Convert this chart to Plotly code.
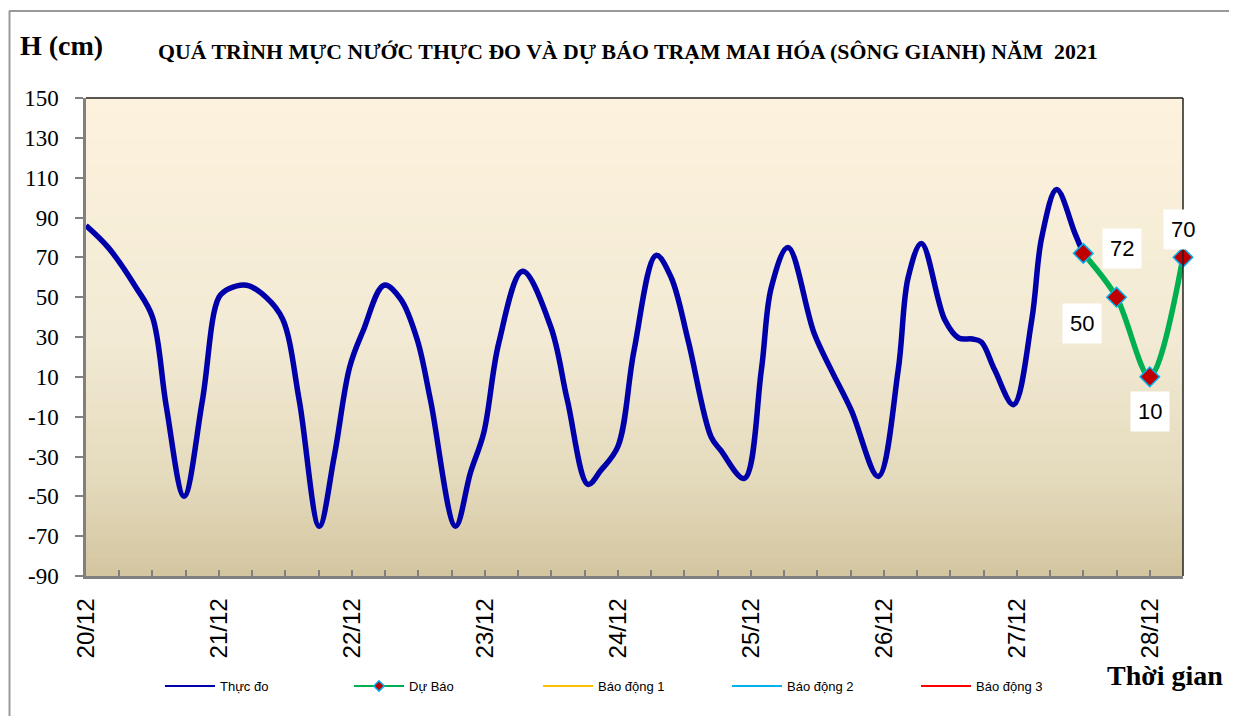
import plotly.graph_objects as go

# ---------------- data ----------------
day_labels = ["20/12", "21/12", "22/12", "23/12", "24/12", "25/12", "26/12", "27/12", "28/12"]
day_hours = [0, 24, 48, 72, 96, 120, 144, 168, 192]
y_ticks = [-90, -70, -50, -30, -10, 10, 30, 50, 70, 90, 110, 130, 150]
y_tick_text = ["-90", "-70", "-50", "-30", "-10", "10", "30", "50", "70", "90", "110", "130", "150"]

# observed water level (hours since 20/12 00h, cm)
obs_hours = [0, 4, 9, 12, 14.5, 17.7, 21, 24, 26, 29, 32.5, 35.5, 38.5, 42.1, 44.8, 47.6, 50,
             53.8, 56.8, 59.8, 62.2, 66.7, 69.4, 71.8, 74.5, 78.8, 83.9, 86.9, 90.6, 92.9, 96,
             98.9, 102.9, 105.6, 108.7, 112.8, 114.6, 118.8, 121.9, 123.7, 126.7, 131.4, 134.5,
             138.1, 143, 146.6, 148.4, 150.8, 155, 157.5, 160, 161.6, 164, 167.4, 170.7, 172.5,
             175.2, 178.5, 180]
obs_level = [86, 75, 55, 40, -5, -50, -2, 50, 54.5, 56, 50, 39, -2, -65, -30, 15, 33,
             56, 49, 28.5, -2, -65, -38, -18, 27, 63, 35, -2, -44, -37, -25,
             23, 71, 60, 28, -20, -27, -41, 13.5, 55, 75, 32, 13.5,
             -6.6, -40, 13.5, 60, 77, 38.6, 29.5, 29, 27.5, 13.5, -4, 38.6, 80,
             104, 82, 72]

# forecast
fc_hours = [180, 186, 192, 198]
fc_level = [72, 50, 10, 70]

# alarm levels (not within the displayed range)
alarm_names = ["Báo động 1", "Báo động 2", "Báo động 3"]
alarm_colors = ["#FFC000", "#00B0F0", "#FF0000"]

# ---------------- figure geometry (reference pixel frame) ----------------
O = 8                      # page body margin
W, H = 1237 - O, 716 - O
L, R, T, B = 86, 1183, 98, 576
PW, PH = R - L, B - T


def px(xp):
    return (xp - L) / PW


def py(yp):
    return (B - yp) / PH


fig = go.Figure()

fig.add_trace(go.Scatter(
    x=obs_hours, y=obs_level, mode="lines", name="Thực đo", showlegend=False,
    line=dict(color="#0000AA", width=5.5, shape="spline", smoothing=1.0),
    cliponaxis=False,
))
fig.add_trace(go.Scatter(
    x=fc_hours, y=fc_level, mode="lines+markers", name="Dự Báo", showlegend=False,
    line=dict(color="#00B050", width=5.5, shape="spline", smoothing=0.9),
    marker=dict(symbol="diamond", size=15, color="#C00000",
                line=dict(color="#00B0F0", width=1.5)),
    cliponaxis=False,
))
# legend entries (thin lines as in the reference legend)
fig.add_trace(go.Scatter(x=[None], y=[None], mode="lines", name="Thực đo",
                         line=dict(color="#0000AA", width=2)))
fig.add_trace(go.Scatter(x=[None], y=[None], mode="lines+markers", name="Dự Báo",
                         line=dict(color="#00B050", width=2),
                         marker=dict(symbol="diamond", size=8, color="#C00000",
                                     line=dict(color="#00B0F0", width=1.5))))
for nm, col in zip(alarm_names, alarm_colors):
    fig.add_trace(go.Scatter(x=[None], y=[None], mode="lines", name=nm,
                             line=dict(color=col, width=2)))

# gradient background of plot area
def lerp(c0, c1, t):
    return tuple(round(a + (b - a) * t) for a, b in zip(c0, c1))

stops = [(0.0, (211, 197, 159)), (0.2, (228, 218, 188)), (0.5, (242, 234, 212)),
         (1.0, (253, 242, 221))]
shapes = []
N = 80
for i in range(N):
    t = (i + 0.5) / N
    for j in range(len(stops) - 1):
        if stops[j][0] <= t <= stops[j + 1][0]:
            f = (t - stops[j][0]) / (stops[j + 1][0] - stops[j][0])
            c = lerp(stops[j][1], stops[j + 1][1], f)
            break
    shapes.append(dict(type="rect", xref="paper", yref="paper", x0=0, x1=1,
                       y0=i / N, y1=(i + 1) / N + 0.002, layer="below",
                       line=dict(width=0), fillcolor="rgb(%d,%d,%d)" % c))
# top and right frame lines
shapes.append(dict(type="line", xref="paper", yref="paper", x0=0, x1=1, y0=1, y1=1,
                   line=dict(color="#222222", width=1.5)))
shapes.append(dict(type="line", xref="paper", yref="paper", x0=1, x1=1, y0=0, y1=1,
                   line=dict(color="#222222", width=1.5)))
# outer chart border (top and left)
shapes.append(dict(type="line", xref="paper", yref="paper", x0=px(9), x1=px(1245),
                   y0=py(11), y1=py(11), line=dict(color="#999999", width=2)))
shapes.append(dict(type="line", xref="paper", yref="paper", x0=px(9.5), x1=px(9.5),
                   y0=py(11), y1=py(720), line=dict(color="#999999", width=2)))

annotations = [
    dict(text="<b>H (cm)</b>", xref="paper", yref="paper", x=px(61), y=py(45),
         xanchor="center", yanchor="middle", showarrow=False,
         font=dict(family="Liberation Serif", size=28, color="black")),
    dict(text="<b>QUÁ TRÌNH MỰC NƯỚC THỰC ĐO VÀ DỰ BÁO TRẠM MAI HÓA (SÔNG GIANH) NĂM  2021</b>",
         xref="paper", yref="paper", x=px(628), y=py(52), xanchor="center", yanchor="middle",
         showarrow=False, font=dict(family="Liberation Serif", size=21.8, color="black")),
    dict(text="<b>Thời gian</b>", xref="paper", yref="paper", x=px(1165), y=py(675),
         xanchor="center", yanchor="middle", showarrow=False,
         font=dict(family="Liberation Serif", size=28, color="black")),
]
label_offsets = [(39, -5), (-35, 26), (0, 35), (0, -28)]
for (hx, v), (dx, dy) in zip(zip(fc_hours, fc_level), label_offsets):
    annotations.append(dict(
        text=str(v), x=hx, y=v, xref="x", yref="y", showarrow=True, arrowcolor="rgba(0,0,0,0)",
        ax=dx, ay=dy, bgcolor="white", borderpad=7,
        font=dict(family="Liberation Sans", size=22, color="black")))

fig.update_layout(
    width=W, height=H,
    margin=dict(l=L - O, r=W - (R - O), t=T - O, b=H - (B - O)),
    paper_bgcolor="white", plot_bgcolor="rgba(0,0,0,0)",
    showlegend=True,
    legend=dict(orientation="h", x=px(160), y=py(686), xanchor="left", yanchor="middle",
                font=dict(family="Liberation Sans", size=13, color="black"),
                entrywidth=124, itemwidth=50, bgcolor="rgba(0,0,0,0)"),
    shapes=shapes, annotations=annotations,
)
fig.update_xaxes(
    range=[0, 198], tickvals=day_hours, ticktext=day_labels, tickangle=-90,
    ticks="inside", ticklen=6, tickcolor="#808080", tickwidth=1.5,
    minor=dict(dtick=6, tick0=0, ticks="inside", ticklen=6, tickcolor="#808080", tickwidth=1.5),
    showline=True, linecolor="#808080", linewidth=2.5, showgrid=False, zeroline=False,
    ticklabelstandoff=10,
    tickfont=dict(family="Liberation Sans", size=24, color="black"),
)
fig.update_yaxes(
    range=[-90, 150], tickvals=y_ticks, ticktext=y_tick_text, ticks="outside", ticklen=8,
    tickcolor="#808080", tickwidth=1.5, showline=True, linecolor="#808080", linewidth=2.5,
    showgrid=False, zeroline=False, ticklabelstandoff=12,
    tickfont=dict(family="Liberation Serif", size=23, color="black"),
)

fig.write_html("out.html")
